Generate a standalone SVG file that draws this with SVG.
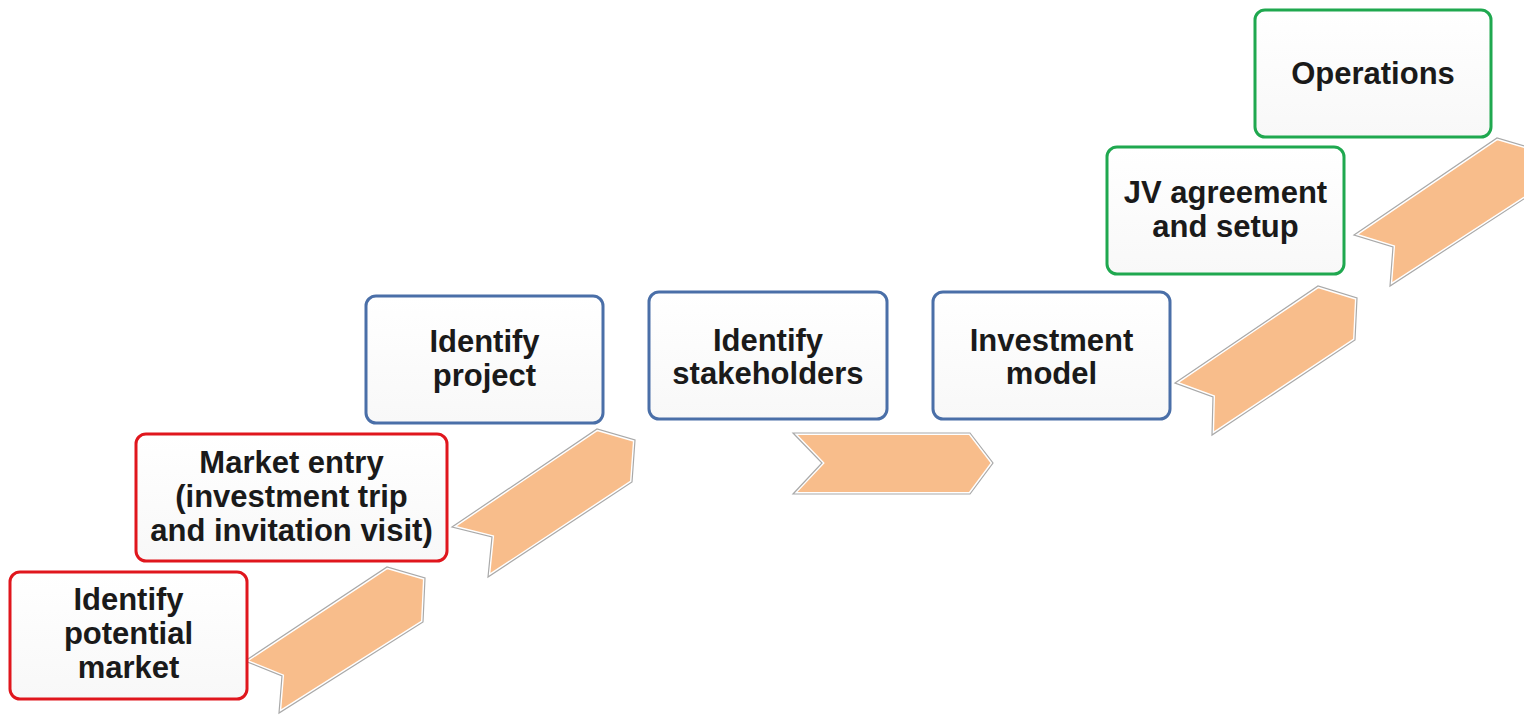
<svg xmlns="http://www.w3.org/2000/svg" width="1524" height="715" viewBox="0 0 1524 715">
  <defs>
    <linearGradient id="boxfill" x1="0" y1="0" x2="0" y2="1">
      <stop offset="0" stop-color="#ffffff"/>
      <stop offset="1" stop-color="#f8f8f8"/>
    </linearGradient>
    <style>
      .box { fill: url(#boxfill); stroke-width: 3; }
      .red { stroke: #e0161d; }
      .blue { stroke: #4a6fa8; }
      .green { stroke: #1fa84f; }
      .lbl { font-family: "Liberation Sans", Arial, sans-serif; font-weight: bold; font-size: 31px; fill: #1a1a1a; text-anchor: middle; }
      .chev { fill: #f8bd8b; stroke: #ffffff; stroke-width: 4; stroke-linejoin: miter; }
      .chevline { fill: none; stroke: #a9a9a9; stroke-width: 1.2; stroke-linejoin: miter; }
    </style>
  </defs>
  <rect width="1524" height="715" fill="#ffffff"/>

  <g id="connectors">
    <g id="chevron1">
      <polygon class="chev" points="245,661 387,567 425,578 423,622 279,713 282,676"/>
      <polygon class="chevline" points="245,661 387,567 425,578 423,622 279,713 282,676"/>
    </g>
    <g id="chevron2">
      <polygon class="chev" points="452,527 597,429 635,440 632,482 488,577 492,537"/>
      <polygon class="chevline" points="452,527 597,429 635,440 632,482 488,577 492,537"/>
    </g>
    <g id="chevron3">
      <polygon class="chev" points="793,433 970,433 993,463 970,494 793,494 822,463"/>
      <polygon class="chevline" points="793,433 970,433 993,463 970,494 793,494 822,463"/>
    </g>
    <g id="chevron4">
      <polygon class="chev" points="1175,383 1318,286 1357,298 1355,340 1212,435 1213,397"/>
      <polygon class="chevline" points="1175,383 1318,286 1357,298 1355,340 1212,435 1213,397"/>
    </g>
    <g id="chevron5">
      <polygon class="chev" points="1354,235 1497,138 1535,149 1533,193 1390,286 1393,247"/>
      <polygon class="chevline" points="1354,235 1497,138 1535,149 1533,193 1390,286 1393,247"/>
    </g>
  </g>

  <g id="node-identify-market">
    <rect class="box red" x="10" y="572" width="237" height="127" rx="10"/>
    <text class="lbl" x="128.5" y="610">Identify</text>
    <text class="lbl" x="128.5" y="644">potential</text>
    <text class="lbl" x="128.5" y="678">market</text>
  </g>

  <g id="node-market-entry">
    <rect class="box red" x="136" y="434" width="311" height="127" rx="10"/>
    <text class="lbl" x="291.5" y="473">Market entry</text>
    <text class="lbl" x="291.5" y="507">(investment trip</text>
    <text class="lbl" x="291.5" y="541">and invitation visit)</text>
  </g>

  <g id="node-identify-project">
    <rect class="box blue" x="366" y="296" width="237" height="127" rx="10"/>
    <text class="lbl" x="484.5" y="352">Identify</text>
    <text class="lbl" x="484.5" y="386">project</text>
  </g>

  <g id="node-identify-stakeholders">
    <rect class="box blue" x="649" y="292" width="238" height="127" rx="10"/>
    <text class="lbl" x="768" y="351">Identify</text>
    <text class="lbl" x="768" y="384">stakeholders</text>
  </g>

  <g id="node-investment-model">
    <rect class="box blue" x="933" y="292" width="237" height="127" rx="10"/>
    <text class="lbl" x="1051.5" y="351">Investment</text>
    <text class="lbl" x="1051.5" y="384">model</text>
  </g>

  <g id="node-jv-agreement">
    <rect class="box green" x="1107" y="147" width="237" height="127" rx="10"/>
    <text class="lbl" x="1225.5" y="203">JV agreement</text>
    <text class="lbl" x="1225.5" y="237">and setup</text>
  </g>

  <g id="node-operations">
    <rect class="box green" x="1255" y="10" width="236" height="127" rx="10"/>
    <text class="lbl" x="1373" y="84">Operations</text>
  </g>
</svg>
